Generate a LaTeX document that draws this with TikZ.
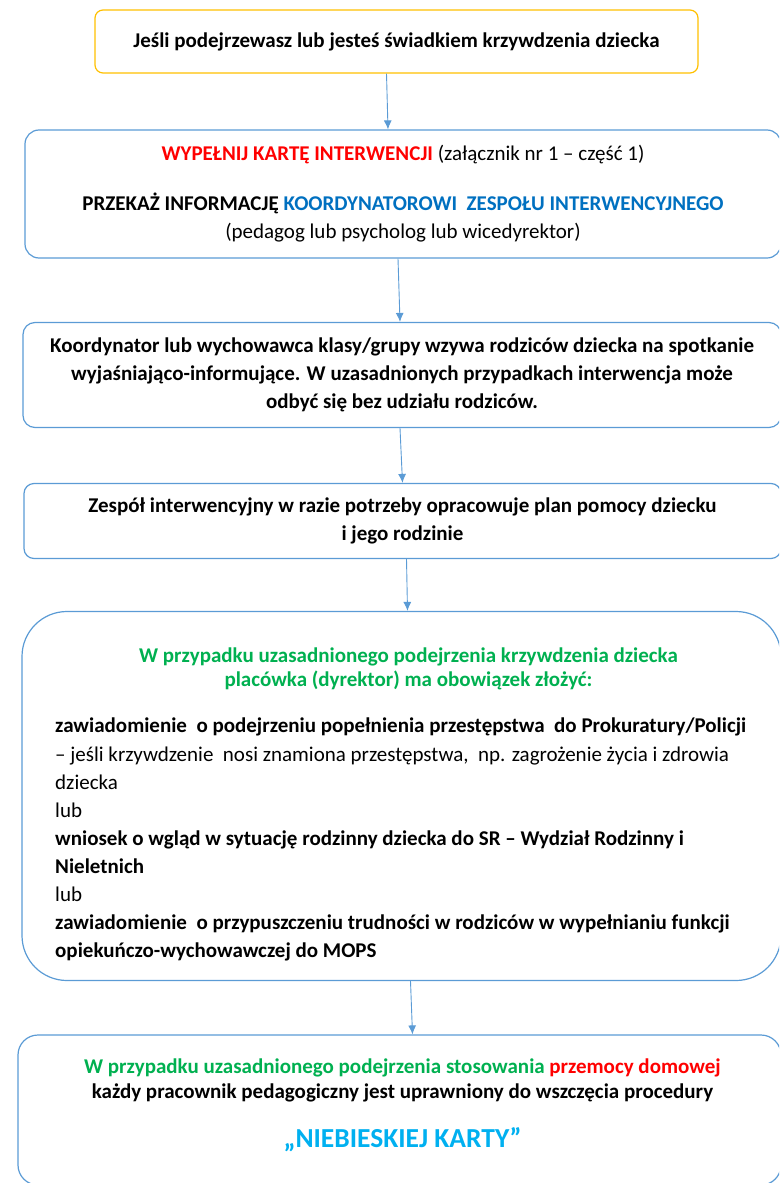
\documentclass[tikz,border=0pt]{standalone}
\usepackage{fontspec}
\setmainfont{Carlito}
\usetikzlibrary{arrows.meta,positioning,calc}
\definecolor{ramka}{RGB}{91,155,213}
\definecolor{zolty}{RGB}{255,192,0}
\definecolor{czerwony}{RGB}{255,0,0}
\definecolor{niebieski}{RGB}{0,112,192}
\definecolor{zielony}{RGB}{0,176,80}
\definecolor{blekit}{RGB}{0,176,240}

\begin{document}
\begin{tikzpicture}
[x=1pt,y=-1pt,
krok/.style={draw=ramka,line width=1.2pt,rounded corners=12pt,inner sep=0pt,align=center,
  font=\fontsize{21}{28}\selectfont\bfseries},
strzalka/.style={draw=ramka,line width=0.9pt,-{Latex[length=9pt,width=8pt]}},
opis/.style={inner sep=0pt,font=\fontsize{21}{28.1}\selectfont}]
\useasboundingbox (0,0) rectangle (779,1183);
\clip (0,0) rectangle (779,1183);

\node[krok,draw=zolty,rounded corners=8pt,minimum width=603pt,minimum height=63pt] (start) at (396.5,41.5)
{Jeśli podejrzewasz lub jesteś świadkiem krzywdzenia dziecka};
\node[krok,minimum width=756pt,minimum height=128pt,rounded corners=14pt] (karta) at (403,194)
{\textcolor{czerwony}{WYPEŁNIJ KARTĘ INTERWENCJI} \mdseries(załącznik nr 1 – część 1)\\[22pt]
PRZEKAŻ INFORMACJĘ \textcolor{niebieski}{KOORDYNATOROWI\ \ ZESPOŁU INTERWENCYJNEGO}\\
\mdseries(pedagog lub psycholog lub wicedyrektor)};
\node[krok,minimum width=758pt,minimum height=105pt] (rodzice) at (402,375)
{Koordynator lub wychowawca klasy/grupy wzywa rodziców dziecka na spotkanie\\
wyjaśniająco-informujące. W uzasadnionych przypadkach interwencja może\\
odbyć się bez udziału rodziców.};
\node[krok,minimum width=757pt,minimum height=75pt,rounded corners=10pt] (plan) at (402.5,521)
{Zespół interwencyjny w razie potrzeby opracowuje plan pomocy dziecku\\ i jego rodzinie};
\node[krok,minimum width=759pt,minimum height=369pt,rounded corners=45pt] (dyrektor) at (401.5,796) {};
\node[krok,minimum width=763pt,minimum height=150pt,rounded corners=20pt] (nk) at (399.5,1110) {};

% tresc duzych ramek
\node[opis,align=center,font=\fontsize{21}{24}\selectfont\bfseries,text=zielony,anchor=north]
  (obowiazek) at ($(dyrektor.north)+(7,37)$)
{W przypadku uzasadnionego podejrzenia krzywdzenia dziecka\\
placówka (dyrektor) ma obowiązek złożyć:};
\node[opis,align=left,anchor=north west] (wnioski) at (55,718)
{\textbf{zawiadomienie\ \ o podejrzeniu popełnienia przestępstwa\ \ do Prokuratury/Policji}\\
– jeśli krzywdzenie\ \ nosi znamiona przestępstwa,\ \ np. zagrożenie życia i zdrowia\\
dziecka\\
lub\\
\textbf{wniosek o wgląd w sytuację rodzinny dziecka do SR – Wydział Rodzinny i}\\
\textbf{Nieletnich}\\
lub\\
\textbf{zawiadomienie\ \ o przypuszczeniu trudności w rodziców w wypełnianiu funkcji}\\
\textbf{opiekuńczo-wychowawczej do MOPS}};
\node[opis,align=center,font=\fontsize{21}{25}\selectfont\bfseries,anchor=north]
  (procedura) at ($(nk.north)+(3,24)$)
{\textcolor{zielony}{W przypadku uzasadnionego podejrzenia stosowania} \textcolor{czerwony}{przemocy domowej}\\
każdy pracownik pedagogiczny jest uprawniony do wszczęcia procedury\\[24pt]
{\fontsize{27.5}{30}\selectfont\textcolor{blekit}{„NIEBIESKIEJ KARTY”}}};

% strzalki
\draw[strzalka] ([xshift=-10pt]start.south) -- ([xshift=-15pt]karta.north);
\draw[strzalka] ([xshift=-5pt]karta.south) -- ([xshift=-2pt]rodzice.north);
\draw[strzalka] ([xshift=-2pt]rodzice.south) -- ([xshift=0pt]plan.north);
\draw[strzalka] ([xshift=4pt]plan.south) -- ([xshift=6pt]dyrektor.north);
\draw[strzalka] ([xshift=9pt]dyrektor.south) -- ([xshift=13pt]nk.north);
\end{tikzpicture}
\end{document}
